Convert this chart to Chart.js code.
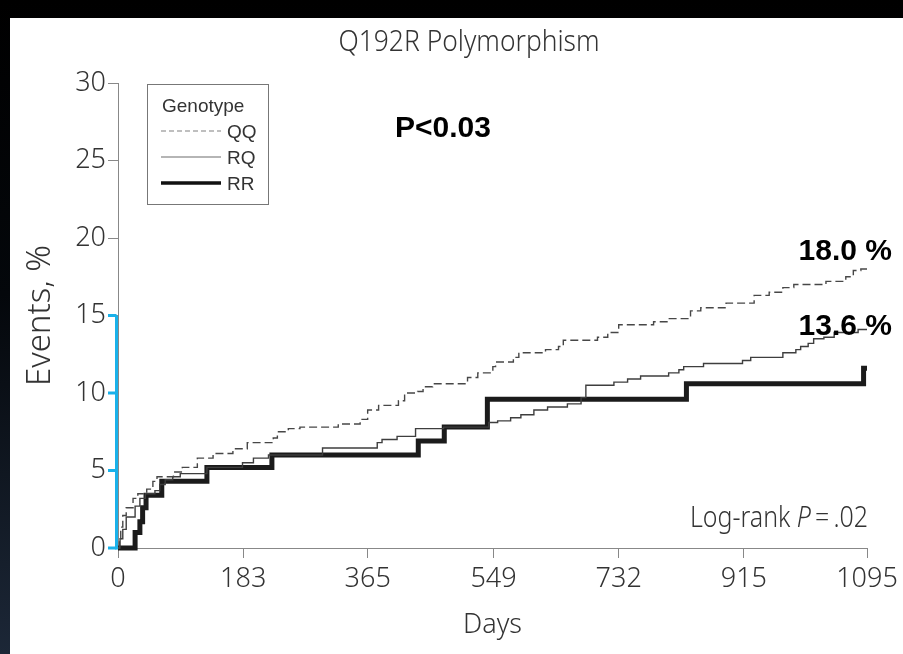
<!DOCTYPE html>
<html><head><meta charset="utf-8">
<script src="https://cdn.jsdelivr.net/npm/chart.js@4.4.1/dist/chart.umd.min.js"></script>
<style>
html,body{margin:0;padding:0;width:903px;height:654px;overflow:hidden;background:#000;}
#frame{position:absolute;left:0;top:0;width:903px;height:654px;background:linear-gradient(to bottom,#000 0%,#04070b 45%,#1c2737 100%);}
#panel{position:absolute;left:10px;top:18px;width:893px;height:636px;background:#fff;}
canvas{display:block;}
</style></head><body>
<div id="frame"></div>
<div id="panel"><canvas id="c" width="893" height="636"></canvas></div>
<script>
// ---- data (days, cumulative events %) ----
const xTicks = [0, 183, 365, 549, 732, 915, 1095];
const yTicks = [0, 5, 10, 15, 20, 25, 30];
const blueTicks = [0, 5, 10, 15];
const seriesNames = ['QQ', 'RQ', 'RR'];

const qqDays = [0, 2, 4, 7, 12, 22, 29, 42, 51, 57, 81, 94, 116, 139, 168, 189, 227, 233, 249, 266, 322, 354, 365, 381, 410, 419, 438, 446, 460, 511, 526, 548, 552, 578, 586, 625, 644, 651, 701, 716, 732, 783, 804, 837, 852, 889, 930, 952, 972, 988, 1035, 1064, 1075, 1086, 1095];
const qqVals = [0, 0.6, 1.35, 2.1, 2.6, 3.2, 3.5, 3.8, 4.3, 4.6, 4.9, 5.2, 5.8, 6.1, 6.4, 6.8, 7.1, 7.5, 7.7, 7.8, 8.0, 8.3, 8.9, 9.2, 9.5, 10.0, 10.1, 10.4, 10.6, 11.0, 11.3, 11.7, 12.0, 12.3, 12.6, 12.8, 13.0, 13.4, 13.6, 13.9, 14.4, 14.6, 14.8, 15.3, 15.5, 15.8, 16.3, 16.5, 16.8, 17.0, 17.2, 17.5, 17.9, 18.0, 18.0];

const rqDays = [0, 3, 7, 12, 25, 32, 40, 54, 61, 69, 80, 91, 130, 182, 198, 220, 299, 379, 386, 408, 435, 476, 542, 555, 574, 589, 608, 628, 657, 677, 684, 725, 745, 764, 805, 820, 827, 856, 913, 925, 972, 991, 998, 1009, 1017, 1032, 1047, 1082, 1095];
const rqVals = [0, 0.6, 1.2, 2.0, 2.7, 3.2, 3.5, 3.7, 4.1, 4.4, 4.6, 4.8, 5.2, 5.5, 5.8, 6.0, 6.45, 6.8, 7.0, 7.2, 7.7, 7.8, 8.1, 8.2, 8.4, 8.6, 8.9, 9.1, 9.3, 9.7, 10.5, 10.7, 10.9, 11.1, 11.3, 11.5, 11.7, 11.9, 12.1, 12.3, 12.6, 12.8, 13.0, 13.2, 13.5, 13.6, 13.9, 14.1, 14.1];

const rrDays = [0, 25, 32, 36, 41, 64, 130, 225, 439, 477, 540, 831, 1090, 1095];
const rrVals = [0, 1.0, 1.7, 2.6, 3.4, 4.3, 5.2, 6.0, 6.9, 7.8, 9.6, 10.6, 11.6, 11.6];

const chartTitle = 'Q192R Polymorphism';
const finalLabels = ['18.0 %', '13.6 %'];
const pLabel = 'P<0.03';
const logRank = ['Log-rank ', 'P', '\u2009=\u2009.02'];

const COND = "'Liberation Sans Narrow', 'Noto Sans Condensed', 'Noto Sans', sans-serif";
const COND_W = '300 condensed';
const SANS = "'Liberation Sans', Arial, sans-serif";
const toXY = (d, v) => d.map((x, i) => ({x: x, y: v[i]}));

const overlay = {
  id: 'overlay',
  afterDraw(chart) {
    const {ctx, chartArea: a, scales: {x, y}} = chart;
    ctx.save();
    // title (slightly condensed)
    ctx.fillStyle = '#333';
    ctx.font = COND_W + " 30px " + COND;
    ctx.textAlign = 'center'; ctx.textBaseline = 'alphabetic';
    ctx.save(); ctx.translate(469 - 10, 33); ctx.scale(0.88, 1);
    ctx.fillText(chartTitle, 0, 0);
    ctx.restore();

    // blue highlight on y axis
    ctx.strokeStyle = '#19b1ea';
    ctx.lineWidth = 3;
    const bx = a.left - 1.5;
    ctx.beginPath();
    ctx.moveTo(bx, y.getPixelForValue(blueTicks[0]) + 1.5);
    ctx.lineTo(bx, y.getPixelForValue(blueTicks[blueTicks.length - 1]));
    ctx.stroke();
    blueTicks.forEach(v => {
      const py = y.getPixelForValue(v);
      ctx.beginPath(); ctx.moveTo(a.left - 10, py); ctx.lineTo(bx, py); ctx.stroke();
    });

    // legend box
    const lx = a.left + 29, ly = a.top + 1;
    ctx.lineWidth = 1; ctx.strokeStyle = '#777';
    ctx.strokeRect(lx + 0.5, ly + 0.5, 121, 120);
    ctx.fillStyle = '#333';
    ctx.font = "19px " + SANS;
    ctx.textAlign = 'left';
    ctx.fillText('Genotype', lx + 15, ly + 28);
    const rows = [
      {dash: [5, 3], w: 1.5, c: '#aaa'},
      {dash: [], w: 2, c: '#b5b5b5'},
      {dash: [], w: 3.5, c: '#111'}
    ];
    rows.forEach((r, i) => {
      const yy = ly + 47 + i * 26;
      ctx.setLineDash(r.dash); ctx.lineWidth = r.w; ctx.strokeStyle = r.c;
      ctx.beginPath(); ctx.moveTo(lx + 14, yy); ctx.lineTo(lx + 74, yy); ctx.stroke();
      ctx.setLineDash([]);
      ctx.fillStyle = '#333';
      ctx.fillText(seriesNames[i], lx + 80, yy + 7);
    });

    // P<0.03
    ctx.fillStyle = '#000';
    ctx.font = "bold 30px " + SANS;
    ctx.fillText(pLabel, 385, 119);
    // final percentages
    ctx.textAlign = 'right';
    ctx.fillText(finalLabels[0], 882, 242);
    ctx.fillText(finalLabels[1], 882, 317);

    // Log-rank P = .02 (slightly condensed)
    ctx.fillStyle = '#333';
    const fN = COND_W + " 29px " + COND, fI = "italic " + COND_W + " 29px " + COND;
    ctx.font = fN; const w0 = ctx.measureText(logRank[0]).width; const w2 = ctx.measureText(logRank[2]).width;
    ctx.font = fI; const w1 = ctx.measureText(logRank[1]).width;
    const sc = 0.86;
    ctx.save(); ctx.translate(858, 509); ctx.scale(sc, 1);
    const sx = -(w0 + w1 + w2);
    ctx.textAlign = 'left';
    ctx.font = fN; ctx.fillText(logRank[0], sx, 0);
    ctx.font = fI; ctx.fillText(logRank[1], sx + w0, 0);
    ctx.font = fN; ctx.fillText(logRank[2], sx + w0 + w1, 0);
    ctx.restore();
    ctx.restore();
  }
};

const axisGrid = {drawOnChartArea: false, drawTicks: true, tickLength: 10, color: '#888', lineWidth: 1};
const tickFont = {family: COND, size: 27, weight: COND_W};

new Chart(document.getElementById('c').getContext('2d'), {
  type: 'line',
  data: {
    datasets: [
      {label: seriesNames[0], data: toXY(qqDays, qqVals), stepped: 'before', borderColor: '#474747', borderWidth: 1.4, borderDash: [8, 4], pointRadius: 0, fill: false, clip: 8},
      {label: seriesNames[1], data: toXY(rqDays, rqVals), stepped: 'before', borderColor: '#3e3e3e', borderWidth: 1.4, pointRadius: 0, fill: false, clip: 8},
      {label: seriesNames[2], data: toXY(rrDays, rrVals), stepped: 'before', borderColor: '#1b1b1b', borderWidth: 5, pointRadius: 0, fill: false, clip: 8}
    ]
  },
  options: {
    responsive: false, animation: false, devicePixelRatio: 1,
    layout: {padding: {left: 0, right: 36, top: 65, bottom: 0}},
    plugins: {legend: {display: false}, tooltip: {enabled: false}, title: {display: false}},
    scales: {
      x: {type: 'linear', min: 0, max: 1095,
        afterBuildTicks: s => { s.ticks = xTicks.map(v => ({value: v})); },
        afterFit: s => { s.height = 106; },
        grid: axisGrid, border: {display: true, color: '#888', width: 1},
        ticks: {color: '#333', font: tickFont, padding: 5, maxRotation: 0, autoSkip: false, callback: v => String(v)},
        title: {display: true, text: 'Days', color: '#333', font: tickFont, padding: {top: 0, bottom: 12}}
      },
      y: {min: 0, max: 30,
        afterBuildTicks: s => { s.ticks = yTicks.map(v => ({value: v})); },
        afterFit: s => { s.width = 108; },
        grid: axisGrid, border: {display: true, color: '#888', width: 1},
        ticks: {color: '#333', font: tickFont, padding: 2, callback: v => String(v)},
        title: {display: true, text: 'Events, %', color: '#333', font: {family: COND, size: 33, weight: COND_W}, padding: {top: 11, bottom: 0}}
      }
    }
  },
  plugins: [overlay]
});
</script>
</body></html>
